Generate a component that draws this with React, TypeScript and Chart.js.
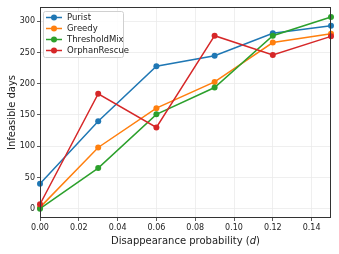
import React, { useEffect, useRef } from "react";
import { Chart, registerables } from "chart.js";

Chart.register(...registerables);

const xValues = [0, 0.03, 0.06, 0.09, 0.12, 0.15];
const seriesNames = ["Purist", "Greedy", "ThresholdMix", "OrphanRescue"];
const purist = [40, 140, 228, 245, 281, 293];
const greedy = [2, 98, 161, 203, 266, 280];
const thresholdMix = [0, 65, 151, 194, 277, 307];
const orphanRescue = [7, 184, 130, 277, 246, 276];
const xTicks = [0, 0.02, 0.04, 0.06, 0.08, 0.1, 0.12, 0.14];
const yTicks = [0, 50, 100, 150, 200, 250, 300];
const colors = ["#1f77b4", "#ff7f0e", "#2ca02c", "#d62728"];
const xTitle = ["Disappearance probability (", "d", ")"];
const yTitle = "Infeasible days";

const FONT = "'DejaVu Sans', sans-serif";

const overlay = {
  id: "overlay",
  afterDatasetsDraw(chart: any) {
    const ctx = chart.ctx;
    const a = chart.chartArea;
    ctx.save();
    // frame
    ctx.strokeStyle = "#333";
    ctx.lineWidth = 1;
    ctx.strokeRect(Math.round(a.left) + 0.5, Math.round(a.top) + 0.5, Math.round(a.right - a.left) - 1, Math.round(a.bottom - a.top) - 1);
    // legend
    const lx = a.left + 3, ly = a.top + 4, lw = 80, lh = 46;
    ctx.fillStyle = "rgba(255,255,255,0.85)";
    ctx.strokeStyle = "#d0d0d0";
    ctx.beginPath();
    if ((ctx as any).roundRect) (ctx as any).roundRect(lx + 0.5, ly + 0.5, lw, lh, 2);
    else ctx.rect(lx + 0.5, ly + 0.5, lw, lh);
    ctx.fill();
    ctx.stroke();
    ctx.font = `8.5px ${FONT}`;
    ctx.textBaseline = "middle";
    ctx.textAlign = "left";
    seriesNames.forEach((name, i) => {
      const y = ly + 6.5 + i * 11;
      ctx.strokeStyle = colors[i];
      ctx.lineWidth = 1.5;
      ctx.beginPath();
      ctx.moveTo(lx + 3, y);
      ctx.lineTo(lx + 19, y);
      ctx.stroke();
      ctx.fillStyle = colors[i];
      ctx.beginPath();
      ctx.arc(lx + 11, y, 3, 0, Math.PI * 2);
      ctx.fill();
      ctx.fillStyle = "#222";
      ctx.fillText(name, lx + 24, y + 0.5);
    });
    // y title
    ctx.fillStyle = "#222";
    ctx.font = `10px ${FONT}`;
    ctx.textAlign = "center";
    ctx.translate(12, (a.top + a.bottom) / 2);
    ctx.rotate(-Math.PI / 2);
    ctx.fillText(yTitle, 0, 0);
    ctx.restore();
    // x title
    ctx.save();
    ctx.fillStyle = "#222";
    ctx.textBaseline = "middle";
    ctx.textAlign = "left";
    const normal = `10px ${FONT}`;
    const ital = `italic 10px ${FONT}`;
    ctx.font = normal;
    const w0 = ctx.measureText(xTitle[0]).width;
    const w2 = ctx.measureText(xTitle[2]).width;
    ctx.font = ital;
    const w1 = ctx.measureText(xTitle[1]).width;
    const total = w0 + w1 + w2;
    let x = (a.left + a.right) / 2 - total / 2;
    const ty = 241;
    ctx.font = normal;
    ctx.fillText(xTitle[0], x, ty);
    x += w0;
    ctx.font = ital;
    ctx.fillText(xTitle[1], x, ty);
    x += w1;
    ctx.font = normal;
    ctx.fillText(xTitle[2], x, ty);
    ctx.restore();
  },
};

export default function App() {
  const ref = useRef<HTMLCanvasElement>(null);
  useEffect(() => {
    const all = [purist, greedy, thresholdMix, orphanRescue];
    const chart = new Chart(ref.current!, {
      type: "line",
      data: {
        datasets: all.map((vals, i) => ({
          label: seriesNames[i],
          data: xValues.map((x, j) => ({ x, y: vals[j] })),
          borderColor: colors[i],
          backgroundColor: colors[i],
          borderWidth: 1.5,
          pointRadius: 3,
          pointBorderWidth: 0,
          pointBackgroundColor: colors[i],
          tension: 0,
          order: 4 - i,
          clip: 6,
        })),
      },
      options: {
        responsive: false,
        animation: false,
        devicePixelRatio: 1,
        layout: { padding: { top: 7, right: 8, left: 0, bottom: 0 } },
        plugins: { legend: { display: false }, tooltip: { enabled: false } },
        scales: {
          x: {
            type: "linear",
            min: 0,
            max: 0.15,
            afterBuildTicks: (s: any) => {
              s.ticks = xTicks.map((v) => ({ value: v }));
            },
            afterFit: (s: any) => {
              s.height = 36;
            },
            ticks: {
              font: { family: FONT, size: 8 },
              color: "#222",
              maxRotation: 0,
              padding: 2,
              callback: (v: any) => Number(v).toFixed(2),
            },
            grid: { color: "#ebebeb", tickColor: "#333", tickLength: 3, lineWidth: 0.8 },
            border: { display: false },
          },
          y: {
            min: -15,
            max: 323,
            afterBuildTicks: (s: any) => {
              s.ticks = yTicks.map((v) => ({ value: v }));
            },
            afterFit: (s: any) => {
              s.width = 40;
            },
            ticks: {
              font: { family: FONT, size: 8 },
              color: "#222",
              padding: 2,
            },
            grid: { color: "#ebebeb", tickColor: "#333", tickLength: 3, lineWidth: 0.8 },
            border: { display: false },
          },
        },
      },
      plugins: [overlay],
    });
    return () => chart.destroy();
  }, []);
  return (
    <div style={{ position: "fixed", left: 0, top: 0, width: 339, height: 254, background: "#fff" }}>
      <canvas ref={ref} width={339} height={254} style={{ width: 339, height: 254 }} />
    </div>
  );
}
